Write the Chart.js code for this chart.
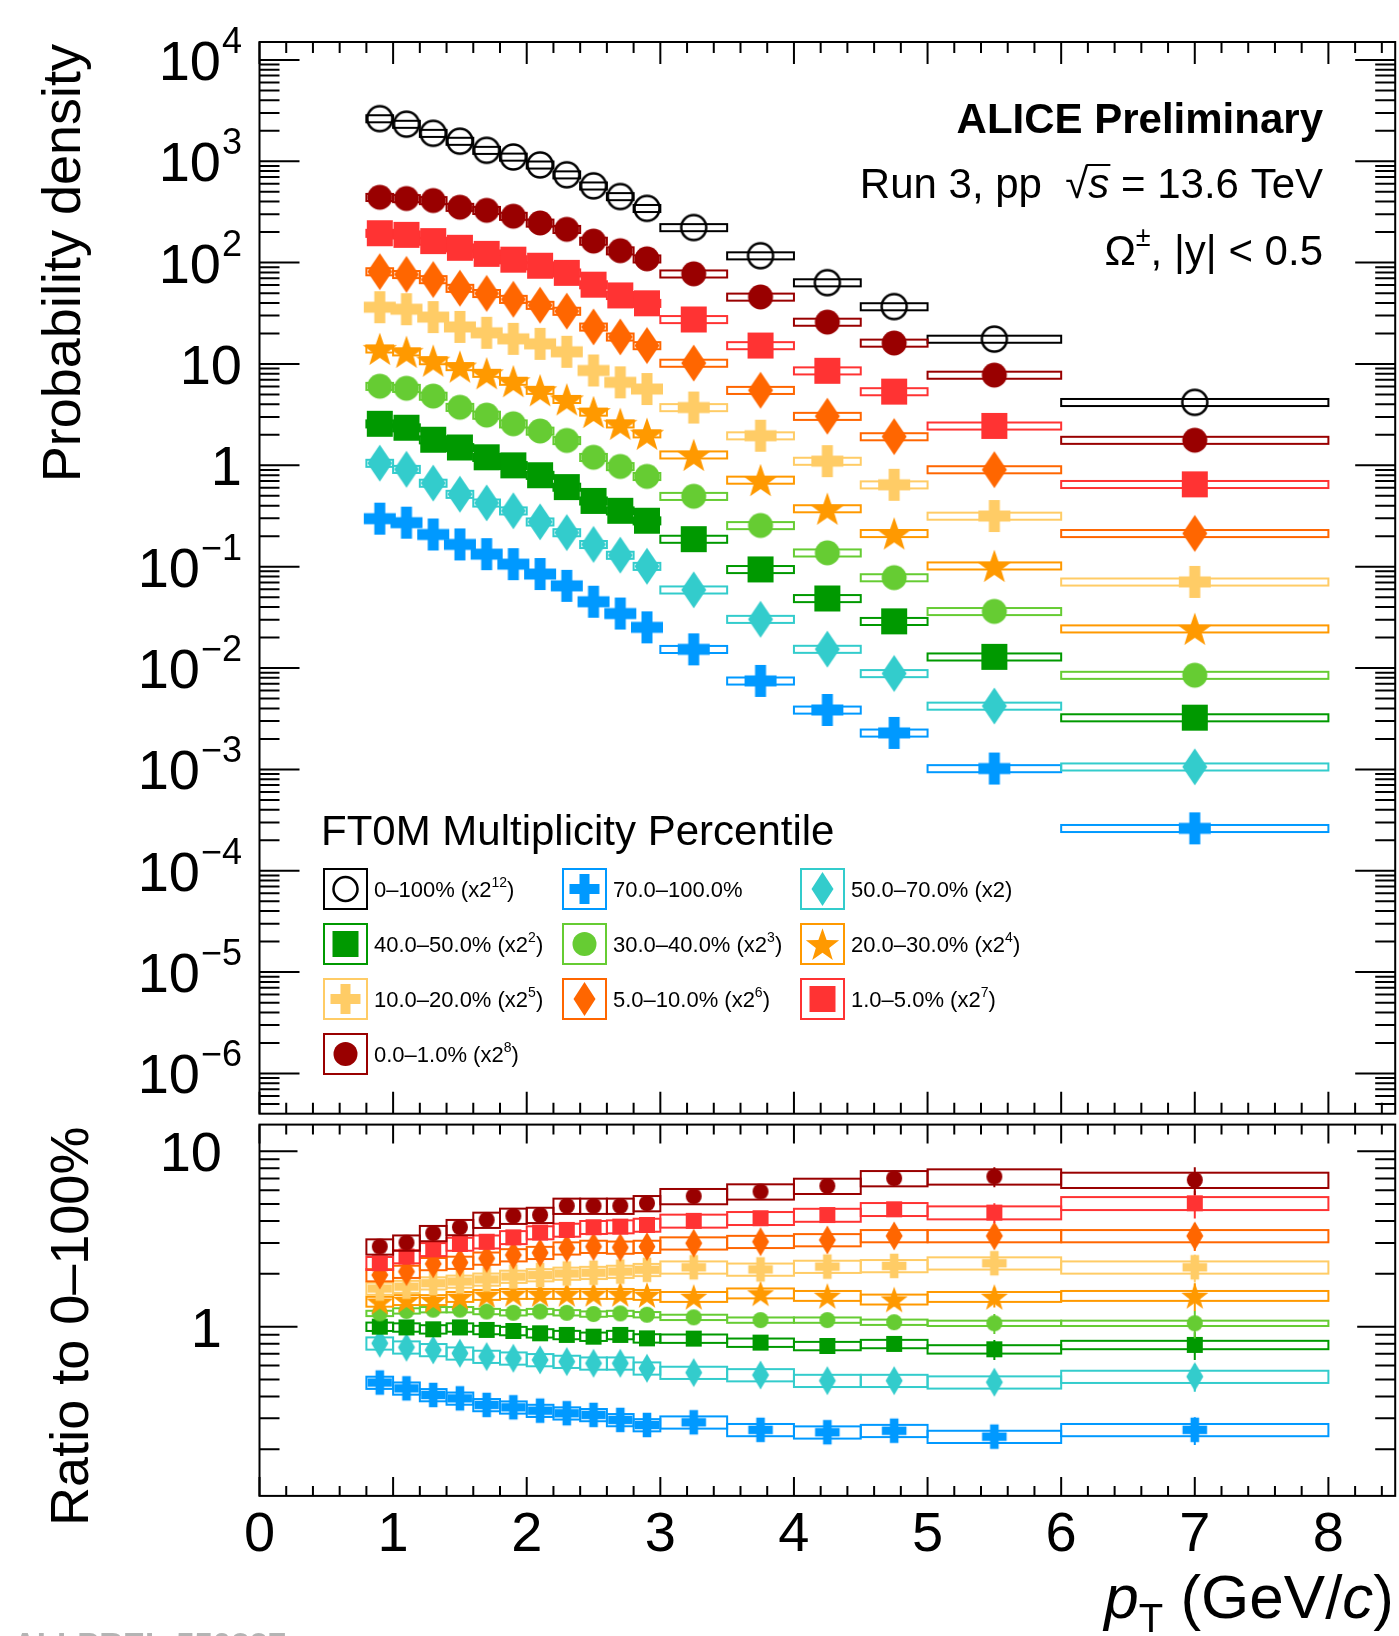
<!DOCTYPE html>
<html>
<head>
<meta charset="utf-8">
<title>Omega pT spectra in FT0M multiplicity classes</title>
<script src="https://cdn.jsdelivr.net/npm/chart.js@4.4.1/dist/chart.umd.min.js"></script>
<style>
  html, body { margin: 0; padding: 0; background: #fff; }
  #wrap { position: relative; width: 1399px; height: 1636px; overflow: hidden; background: #fff; }
  #wrap canvas { position: absolute; left: 0; top: 0; }
</style>
</head>
<body>
<div id="wrap">
  <canvas id="spectra" width="1399" height="1636"></canvas>
  <canvas id="ratios" width="1399" height="1636"></canvas>
</div>
<script>
// pT binning (GeV/c)
const ptLow    = [0.8, 1.0, 1.2, 1.4, 1.6, 1.8, 2.0, 2.2, 2.4, 2.6, 2.8, 3.0, 3.5, 4.0, 4.5, 5.0, 6.0];
const ptHigh   = [1.0, 1.2, 1.4, 1.6, 1.8, 2.0, 2.2, 2.4, 2.6, 2.8, 3.0, 3.5, 4.0, 4.5, 5.0, 6.0, 8.0];
const ptCenter = [0.9, 1.1, 1.3, 1.5, 1.7, 1.9, 2.1, 2.3, 2.5, 2.7, 2.9, 3.25, 3.75, 4.25, 4.75, 5.5, 7.0];

// spectra, already scaled by the factor quoted in the legend
const specMB      = [2634, 2322, 1889, 1578, 1284, 1102, 921, 736, 572, 449, 343, 222, 117, 63.4, 36.8, 17.6, 4.18];
const spec70to100 = [0.298, 0.272, 0.208, 0.166, 0.133, 0.106, 0.0847, 0.0647, 0.0451, 0.0345, 0.0252, 0.0153, 0.00747, 0.00386, 0.00229, 0.00102, 0.000262];
const spec50to70  = [1.05, 0.914, 0.668, 0.519, 0.426, 0.356, 0.277, 0.217, 0.166, 0.130, 0.101, 0.0591, 0.0303, 0.01535, 0.00884, 0.00422, 0.00106];
const spec40to50  = [2.57, 2.35, 1.79, 1.50, 1.20, 1.00, 0.799, 0.610, 0.446, 0.356, 0.284, 0.187, 0.094, 0.0486, 0.0289, 0.0129, 0.00324];
const spec30to40  = [6.03, 5.76, 4.82, 3.74, 3.13, 2.57, 2.18, 1.76, 1.20, 0.974, 0.778, 0.495, 0.255, 0.137, 0.078, 0.0362, 0.0085];
const spec20to30  = [14.1, 13.2, 10.8, 9.44, 8.11, 6.77, 5.51, 4.48, 3.36, 2.57, 2.05, 1.27, 0.716, 0.374, 0.213, 0.102, 0.0244];
const spec10to20  = [36.3, 34.7, 29.0, 23.2, 20.3, 17.7, 15.8, 13.2, 8.63, 6.59, 5.66, 3.72, 1.96, 1.10, 0.643, 0.316, 0.0708];
const spec5to10   = [81.5, 76.5, 68.1, 55.9, 49.7, 43.5, 38.0, 33.2, 23.2, 18.5, 15.2, 10.2, 5.50, 3.05, 1.92, 0.907, 0.213];
const spec1to5    = [195, 188, 163, 140, 122, 107, 93.2, 79.3, 60.6, 47.5, 39.7, 27.5, 15.2, 8.57, 5.34, 2.45, 0.649];
const spec0to1    = [441, 429, 410, 352, 328, 287, 246, 213, 163, 131, 109, 77.5, 45.8, 25.9, 16.1, 7.77, 1.77];

// ratios to the 0-100% spectrum
const ratio70to100 = [0.480, 0.445, 0.408, 0.390, 0.358, 0.347, 0.332, 0.321, 0.314, 0.294, 0.275, 0.285, 0.258, 0.250, 0.255, 0.236, 0.258];
const ratio50to70  = [0.804, 0.763, 0.737, 0.705, 0.675, 0.660, 0.646, 0.632, 0.618, 0.618, 0.579, 0.547, 0.530, 0.492, 0.492, 0.482, 0.519];
const ratio40to50  = [1.00, 0.99, 0.966, 0.99, 0.958, 0.945, 0.917, 0.897, 0.877, 0.897, 0.858, 0.855, 0.811, 0.776, 0.797, 0.743, 0.787];
const ratio30to40  = [1.19, 1.23, 1.25, 1.25, 1.22, 1.20, 1.22, 1.20, 1.18, 1.19, 1.17, 1.13, 1.09, 1.09, 1.06, 1.045, 1.045];
const ratio20to30  = [1.39, 1.42, 1.42, 1.48, 1.52, 1.54, 1.54, 1.54, 1.54, 1.54, 1.52, 1.48, 1.55, 1.50, 1.43, 1.48, 1.50];
const ratio10to20  = [1.65, 1.69, 1.77, 1.81, 1.86, 1.93, 1.97, 2.01, 2.03, 2.06, 2.11, 2.18, 2.12, 2.20, 2.22, 2.30, 2.18];
const ratio5to10   = [1.97, 2.06, 2.28, 2.32, 2.45, 2.56, 2.64, 2.80, 2.86, 2.83, 2.86, 2.99, 3.05, 3.12, 3.29, 3.29, 3.29];
const ratio1to5    = [2.30, 2.51, 2.76, 2.96, 3.05, 3.23, 3.44, 3.56, 3.69, 3.72, 3.80, 4.01, 4.15, 4.33, 4.67, 4.47, 5.05];
const ratio0to1    = [2.86, 3.01, 3.41, 3.69, 4.06, 4.28, 4.33, 4.88, 4.88, 4.88, 5.05, 5.54, 5.89, 6.34, 7.01, 7.17, 6.86];

// relative uncertainties
const specSys = 0.08;
const ratioStat = [0.03, 0.03, 0.03, 0.03, 0.03, 0.03, 0.035, 0.035, 0.04, 0.04, 0.045, 0.05, 0.06, 0.07, 0.09, 0.13, 0.18];

// legend order (row by row)
const series = [
  { label: '0–100%',      pow: '12', color: '#000000', marker: 'openCircle', spec: specMB,      ratio: null,         rsys: 0 },
  { label: '70.0–100.0%', pow: null, color: '#0099ff', marker: 'cross',      spec: spec70to100, ratio: ratio70to100, rsys: 0.08 },
  { label: '50.0–70.0%',  pow: '1',  color: '#33cccc', marker: 'diamond',    spec: spec50to70,  ratio: ratio50to70,  rsys: 0.08 },
  { label: '40.0–50.0%',  pow: '2',  color: '#009900', marker: 'square',     spec: spec40to50,  ratio: ratio40to50,  rsys: 0.055 },
  { label: '30.0–40.0%',  pow: '3',  color: '#66cc33', marker: 'circle',     spec: spec30to40,  ratio: ratio30to40,  rsys: 0.035 },
  { label: '20.0–30.0%',  pow: '4',  color: '#ff9900', marker: 'star',       spec: spec20to30,  ratio: ratio20to30,  rsys: 0.065 },
  { label: '10.0–20.0%',  pow: '5',  color: '#ffcc66', marker: 'cross',      spec: spec10to20,  ratio: ratio10to20,  rsys: 0.08 },
  { label: '5.0–10.0%',   pow: '6',  color: '#ff6600', marker: 'diamond',    spec: spec5to10,   ratio: ratio5to10,   rsys: 0.08 },
  { label: '1.0–5.0%',    pow: '7',  color: '#ff3333', marker: 'square',     spec: spec1to5,    ratio: ratio1to5,    rsys: 0.085 },
  { label: '0.0–1.0%',    pow: '8',  color: '#990000', marker: 'circle',     spec: spec0to1,    ratio: ratio0to1,    rsys: 0.10 }
];

const FONT = '"Liberation Sans", Arial, Helvetica, sans-serif';

// marker sizes for spectra, ratios and legend
const TOP = { r: 12.5, sq: 13, dw: 12.5, dh: 18.5, ca: 16, ct: 5.5, so: 18 };
const BOT = { r: 8, sq: 8, dw: 8.5, dh: 14.5, ca: 12.3, ct: 4.3, so: 14.2 };
const LEG = { r: 12, sq: 13, dw: 11, dh: 17, ca: 15, ct: 5, so: 17.5 };

function drawMarker(ctx, shape, color, s, x, y) {
  ctx.save();
  ctx.fillStyle = color;
  ctx.strokeStyle = color;
  ctx.beginPath();
  if (shape === 'openCircle') {
    ctx.lineWidth = 2.5;
    ctx.arc(x, y, s.r, 0, Math.PI * 2);
    ctx.stroke();
  } else if (shape === 'circle') {
    ctx.arc(x, y, s.r, 0, Math.PI * 2);
    ctx.fill();
  } else if (shape === 'square') {
    ctx.rect(x - s.sq, y - s.sq, 2 * s.sq, 2 * s.sq);
    ctx.fill();
  } else if (shape === 'diamond') {
    ctx.moveTo(x, y - s.dh);
    ctx.lineTo(x + s.dw, y);
    ctx.lineTo(x, y + s.dh);
    ctx.lineTo(x - s.dw, y);
    ctx.closePath();
    ctx.fill();
  } else if (shape === 'cross') {
    ctx.rect(x - s.ca, y - s.ct, 2 * s.ca, 2 * s.ct);
    ctx.rect(x - s.ct, y - s.ca, 2 * s.ct, 2 * s.ca);
    ctx.fill();
  } else if (shape === 'star') {
    for (let k = 0; k < 10; k++) {
      const rr = k % 2 ? s.so * 0.4 : s.so;
      const ang = -Math.PI / 2 + k * Math.PI / 5;
      const px = x + rr * Math.cos(ang), py = y + rr * Math.sin(ang) + s.so * 0.1;
      if (k === 0) ctx.moveTo(px, py); else ctx.lineTo(px, py);
    }
    ctx.closePath();
    ctx.fill();
  }
  ctx.restore();
}

// marker sprite used as Chart.js pointStyle
function markerCanvas(shape, color, s) {
  const c = document.createElement('canvas');
  c.width = 44; c.height = 44;
  drawMarker(c.getContext('2d'), shape, color, s, 22, 22);
  return c;
}

// text made of pieces (superscripts, italics)
function runsWidth(ctx, runs) {
  let w = 0;
  for (const r of runs) { ctx.font = r.font; w += ctx.measureText(r.t).width + (r.gap || 0); }
  return w;
}
function drawRuns(ctx, runs, x, y, align) {
  const total = runsWidth(ctx, runs);
  let cx = align === 'right' ? x - total : align === 'center' ? x - total / 2 : x;
  ctx.textAlign = 'left';
  ctx.textBaseline = 'alphabetic';
  for (const r of runs) {
    ctx.font = r.font;
    const w = ctx.measureText(r.t).width;
    ctx.fillText(r.t, cx, y + (r.dy || 0));
    if (r.over) {
      ctx.save();
      ctx.lineWidth = 2;
      ctx.beginPath();
      ctx.moveTo(cx - 2, y + r.over);
      ctx.lineTo(cx + w + 1, y + r.over);
      ctx.stroke();
      ctx.restore();
    }
    cx += w + (r.gap || 0);
  }
}

function logTicks(min, max) {
  const major = [], minor = [];
  for (let e = Math.floor(Math.log10(min)); e <= Math.ceil(Math.log10(max)); e++) {
    for (let m = 1; m <= 9; m++) {
      const v = m * Math.pow(10, e);
      if (v < min || v > max) continue;
      (m === 1 ? major : minor).push(v);
    }
  }
  return { major, minor };
}

const xMajor = [0, 1, 2, 3, 4, 5, 6, 7, 8];
const xMinor = [];
for (let k = 1; k <= 42; k++) if (k % 5) xMinor.push(k * 0.2);

// systematic boxes (and stat bars) drawn just before each dataset's markers
const boxPlugin = {
  id: 'errorBoxes',
  beforeDatasetDraw(chart, args) {
    const ds = chart.data.datasets[args.index];
    const xs = chart.scales.x, ys = chart.scales.y, a = chart.chartArea;
    const ctx = chart.ctx;
    ctx.save();
    ctx.beginPath();
    ctx.rect(a.left, a.top, a.right - a.left, a.bottom - a.top);
    ctx.clip();
    ctx.strokeStyle = ds.boxColor;
    ctx.lineWidth = 2;
    ds.data.forEach((p, i) => {
      const x0 = xs.getPixelForValue(ptLow[i]), x1 = xs.getPixelForValue(ptHigh[i]);
      const y0 = ys.getPixelForValue(p.y * (1 + ds.sys)), y1 = ys.getPixelForValue(p.y * (1 - ds.sys));
      ctx.strokeRect(x0, y0, x1 - x0, y1 - y0);
      if (ds.stat) {
        const px = xs.getPixelForValue(p.x);
        ctx.beginPath();
        ctx.moveTo(px, ys.getPixelForValue(p.y * (1 + ds.stat[i])));
        ctx.lineTo(px, ys.getPixelForValue(p.y * (1 - ds.stat[i])));
        ctx.stroke();
      }
    });
    ctx.restore();
  }
};

// ROOT-like frame with inward ticks on all four sides
const framePlugin = {
  id: 'rootFrame',
  afterDraw(chart, args, o) {
    const ctx = chart.ctx, a = chart.chartArea;
    const xs = chart.scales.x, ys = chart.scales.y;
    const yt = logTicks(ys.min, ys.max);
    ctx.save();
    ctx.strokeStyle = '#000';
    ctx.lineWidth = 2;
    ctx.beginPath();
    const xt = (vals, len) => vals.forEach(v => {
      const px = xs.getPixelForValue(v);
      ctx.moveTo(px, a.top); ctx.lineTo(px, a.top + len);
      ctx.moveTo(px, a.bottom); ctx.lineTo(px, a.bottom - len);
    });
    const ytk = (vals, len) => vals.forEach(v => {
      const py = ys.getPixelForValue(v);
      ctx.moveTo(a.left, py); ctx.lineTo(a.left + len, py);
      ctx.moveTo(a.right, py); ctx.lineTo(a.right - len, py);
    });
    xt(xMajor, o.xMajorLen);
    xt(xMinor, o.xMinorLen);
    ytk(yt.major, o.yMajorLen);
    ytk(yt.minor, o.yMinorLen);
    ctx.stroke();
    ctx.strokeRect(a.left, a.top, a.right - a.left, a.bottom - a.top);

    // y tick labels
    ctx.fillStyle = '#000';
    yt.major.forEach(v => {
      const py = ys.getPixelForValue(v);
      const e = Math.round(Math.log10(v));
      let runs;
      if (e === 0) runs = [{ t: '1', font: `56px ${FONT}` }];
      else if (e === 1) runs = [{ t: '10', font: `56px ${FONT}` }];
      else runs = [{ t: '10', font: `56px ${FONT}`, gap: 1 },
                   { t: (e < 0 ? '\u2212' : '') + Math.abs(e), font: `36px ${FONT}`, dy: -27 }];
      drawRuns(ctx, runs, o.yLabelRight, py + 20, 'right');
    });

    // x tick labels
    if (o.xLabels) {
      ctx.font = `56px ${FONT}`;
      ctx.textAlign = 'center';
      xMajor.forEach(v => ctx.fillText(String(v), xs.getPixelForValue(v), o.xLabelBase));
    }

    // rotated y title, aligned to the top of the axis
    ctx.save();
    ctx.translate(o.yTitleX, a.top + 2);
    ctx.rotate(-Math.PI / 2);
    ctx.font = `54px ${FONT}`;
    ctx.textAlign = 'right';
    ctx.textBaseline = 'alphabetic';
    ctx.fillText(o.yTitle, 0, 0);
    ctx.restore();
    ctx.restore();
  }
};

// header texts and legend of the spectra panel
const spectraDecor = {
  id: 'spectraDecor',
  afterDraw(chart) {
    const ctx = chart.ctx;
    ctx.save();
    ctx.fillStyle = '#000';
    ctx.strokeStyle = '#000';
    const R = 1323;
    drawRuns(ctx, [{ t: 'ALICE Preliminary', font: `bold 42px ${FONT}` }], R, 133, 'right');
    drawRuns(ctx, [
      { t: 'Run 3, pp  ', font: `42px ${FONT}` },
      { t: '\u221A', font: `42px ${FONT}` },
      { t: 's', font: `italic 42px ${FONT}`, over: -33 },
      { t: ' = 13.6 TeV', font: `42px ${FONT}` }
    ], R, 198, 'right');
    drawRuns(ctx, [
      { t: '\u03A9', font: `42px ${FONT}` },
      { t: '\u00B1', font: `27px ${FONT}`, dy: -19 },
      { t: ', |y| < 0.5', font: `42px ${FONT}` }
    ], R, 265, 'right');

    drawRuns(ctx, [{ t: 'FT0M Multiplicity Percentile', font: `42px ${FONT}` }], 321, 845, 'left');

    const colX = [324, 563, 801];
    const rowY = [889, 944, 999, 1054];
    series.forEach((s, i) => {
      const bx = colX[i % 3], cy = rowY[Math.floor(i / 3)];
      ctx.lineWidth = 2;
      ctx.strokeStyle = s.color;
      ctx.strokeRect(bx, cy - 20, 43, 40);
      drawMarker(ctx, s.marker, s.color, LEG, bx + 21.5, cy);
      ctx.fillStyle = '#000';
      const runs = [{ t: s.label, font: `22px ${FONT}` }];
      if (s.pow === '1') runs.push({ t: ' (x2)', font: `22px ${FONT}` });
      else if (s.pow) {
        runs.push({ t: ' (x2', font: `22px ${FONT}` });
        runs.push({ t: s.pow, font: `14px ${FONT}`, dy: -10 });
        runs.push({ t: ')', font: `22px ${FONT}` });
      }
      drawRuns(ctx, runs, bx + 50, cy + 8, 'left');
    });
    ctx.restore();
  }
};

// x title and preliminary id under the ratio panel
const ratioDecor = {
  id: 'ratioDecor',
  afterDraw(chart) {
    const ctx = chart.ctx;
    ctx.save();
    ctx.fillStyle = '#000';
    drawRuns(ctx, [
      { t: 'p', font: `italic 62px ${FONT}` },
      { t: 'T', font: `40px ${FONT}`, dy: 14 },
      { t: ' (GeV/', font: `62px ${FONT}` },
      { t: 'c', font: `italic 62px ${FONT}` },
      { t: ')', font: `62px ${FONT}` }
    ], 1394, 1618, 'right');
    ctx.fillStyle = '#b4b4b4';
    ctx.font = `bold 33px ${FONT}`;
    ctx.textAlign = 'left';
    ctx.fillText('ALI-PREL-550327', 13, 1656);
    ctx.restore();
  }
};

const baseOptions = (padding, yMin, yMax, frame) => ({
  responsive: false,
  animation: false,
  events: [],
  layout: { padding, autoPadding: false },
  scales: {
    x: { type: 'linear', min: 0, max: 8.5, display: false },
    y: { type: 'logarithmic', min: yMin, max: yMax, display: false }
  },
  plugins: { legend: { display: false }, tooltip: { enabled: false }, rootFrame: frame }
});

const spectraSets = series.map((s, i) => ({
  label: s.label,
  data: ptCenter.map((x, k) => ({ x, y: s.spec[k] })),
  pointStyle: markerCanvas(s.marker, s.color, TOP),
  pointRadius: 12,
  showLine: false,
  order: series.length - i,
  sys: specSys,
  boxColor: s.color
}));

new Chart(document.getElementById('spectra'), {
  type: 'scatter',
  data: { datasets: spectraSets },
  options: baseOptions({ left: 259.5, top: 42, right: 3.8, bottom: 522.3 }, 4.01e-7, 15020, {
    xMajorLen: 22, xMinorLen: 11, yMajorLen: 40, yMinorLen: 20,
    yLabelRight: 242, xLabels: false, yTitle: 'Probability density', yTitleX: 80
  }),
  plugins: [boxPlugin, framePlugin, spectraDecor]
});

const ratioSets = series.filter(s => s.ratio).map((s, i) => ({
  label: s.label,
  data: ptCenter.map((x, k) => ({ x, y: s.ratio[k] })),
  pointStyle: markerCanvas(s.marker, s.color, BOT),
  pointRadius: 10,
  showLine: false,
  order: series.length - i,
  sys: s.rsys,
  stat: ratioStat,
  boxColor: s.color
}));

new Chart(document.getElementById('ratios'), {
  type: 'scatter',
  data: { datasets: ratioSets },
  options: baseOptions({ left: 259.5, top: 1124.6, right: 3.8, bottom: 140.1 }, 0.1084, 14.19, {
    xMajorLen: 19, xMinorLen: 10, yMajorLen: 38, yMinorLen: 20,
    yLabelRight: 222, xLabels: true, xLabelBase: 1551, yTitle: 'Ratio to 0–100%', yTitleX: 88
  }),
  plugins: [boxPlugin, framePlugin, ratioDecor]
});
</script>
</body>
</html>
